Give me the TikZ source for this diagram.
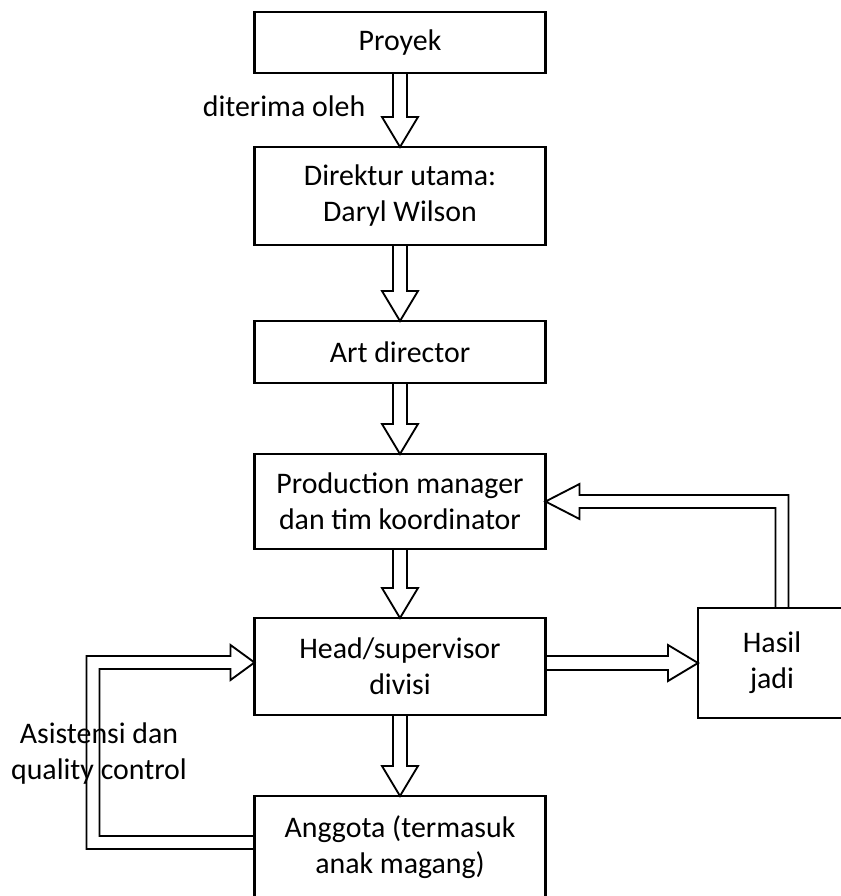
\documentclass[tikz,border=0pt]{standalone}
\usepackage{fontspec}
\setmainfont{Carlito}
\usetikzlibrary{calc}

\tikzset{
  box/.style={draw, line width=2.2pt, minimum width=218.25pt, align=center, inner sep=0pt, outer sep=0pt},
  hol/.style={line width=1.4pt}
}
\newcommand{\downhol}[2]{%
  \draw[hol] ($(#1.south)+(-7,0)$) -- ($(#2.north)+(-7,-30)$) -- ++(-11,0) -- (#2.north)
    -- ($(#2.north)+(18,-30)$) -- ++(-11,0) -- ($(#1.south)+(7,0)$);}

\begin{document}
\begin{tikzpicture}[x=0.75pt, y=-0.75pt, font=\fontsize{22.4}{27}\selectfont]
  \useasboundingbox (0,0) rectangle (840,896);

  \node[box, minimum height=45.75pt] (P) at (400,42.5) {Proyek};
  \node[box, minimum height=73.5pt] (D) at (400,196) {Direktur utama:\\Daryl Wilson};
  \node[box, minimum height=46.5pt] (A) at (400,352) {Art director};
  \node[box, minimum height=71.25pt] (M) at (400,501.5) {Production manager\\dan tim koordinator};
  \node[box, minimum height=72.75pt] (H) at (400,666.5) {Head/supervisor\\divisi};
  \node[box, minimum height=76.5pt] (G) at (400,847) {Anggota (termasuk\\anak magang)};
  \node[box, minimum width=153pt, minimum height=82.5pt] (K) at (800,663) {};
  \node[align=center] (kt) at ($(K.west)+(74,0)$) {Hasil\\jadi};

  \node[anchor=east] (ditr) at ($(P.south)+(-30,33)$) {diterima oleh};
  \node[align=center] (qc) at (99,754) {Asistensi dan\\quality control};

  \downhol{P}{D}
  \downhol{D}{A}
  \downhol{A}{M}
  \downhol{M}{H}
  \downhol{H}{G}

  \coordinate (hk) at (H.east |- K.west);
  \draw[hol] ($(hk)+(0,-7)$) -- ($(K.west)+(-30,-7)$) -- ++(0,-11) -- (K.west)
    -- ($(K.west)+(-30,18)$) -- ++(0,-11) -- ($(hk)+(0,7)$);

  \coordinate (fb) at ($(K.north west)+(84,0)$);
  \draw[hol] ($(fb)+(6.5,0)$) |- ($(M.east)+(34,-6.5)$) -- ++(0,-11) -- (M.east)
    -- ($(M.east)+(34,17.5)$) -- ++(0,-11) -| ($(fb)+(-6.5,0)$);

  \draw[hol] ($(G.west)+(0,2)$) -| ($(H.west)+(-168,-10.5)$) -- ($(H.west)+(-24,-10.5)$)
    -- ++(0,-11) -- ($(H.west)+(0,-4)$) -- ($(H.west)+(-24,13.5)$) -- ++(0,-11)
    -- ($(H.west)+(-155,2.5)$) |- ($(G.west)+(0,-11)$);
\end{tikzpicture}
\end{document}
